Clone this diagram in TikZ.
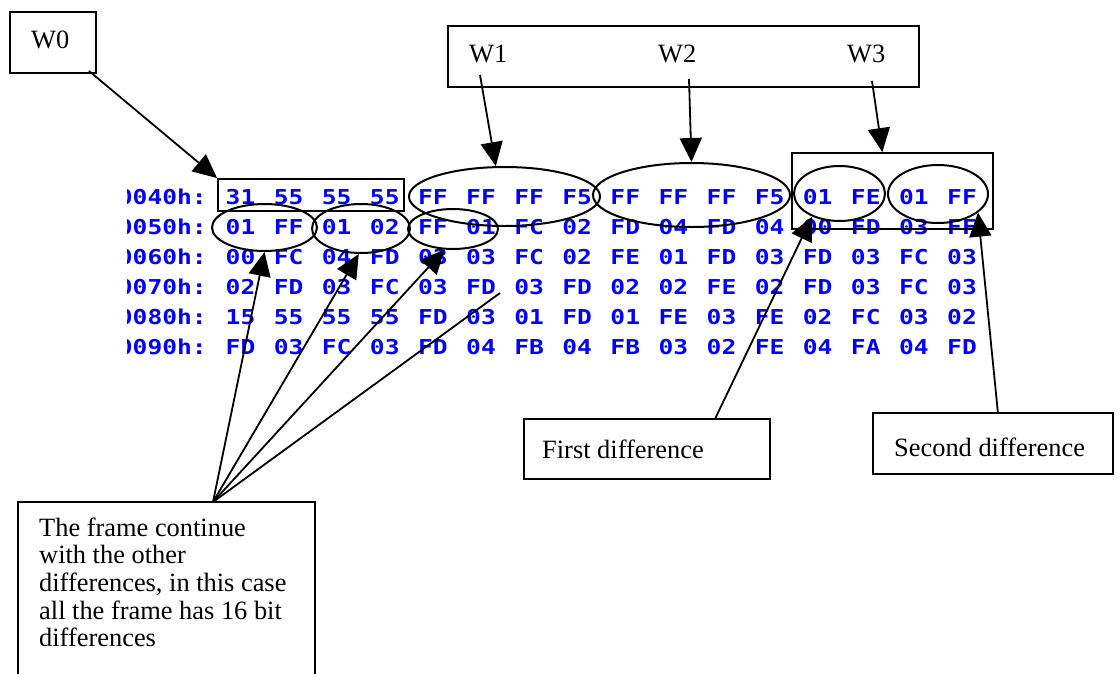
\documentclass[tikz,border=0pt]{standalone}
\usepackage{fontspec}
\setmainfont{Liberation Serif}
\newfontfamily\hexfont[FakeStretch=1.2]{DejaVu Sans Mono}
\usetikzlibrary{arrows.meta,calc,shapes.geometric}
\definecolor{hexblue}{RGB}{0,0,255}
\tikzset{
  hexcell/.style={font=\hexfont\bfseries\fontsize{20.5}{20.5}\selectfont, text=hexblue, inner sep=0pt, anchor=base},
  hexlbl/.style={hexcell, anchor=base east},
  lbl/.style={font=\fontsize{26.4}{27.7}\selectfont, inner sep=0pt, anchor=base west},
  frame/.style={draw, line width=2pt, inner sep=0pt, rectangle},
  ring/.style={draw, line width=2pt, inner sep=0pt, ellipse},
  arr/.style={line width=1.8pt, -{Triangle[length=24pt,width=22pt]}},
  plainline/.style={line width=1.8pt},
}
\begin{document}
\begin{tikzpicture}[x=1pt,y=-1pt]
\useasboundingbox (0,0) rectangle (1120,673);

% hex dump
\begin{scope}
\clip (127,150) rectangle (215,380);
\foreach \lab [count=\r from 0] in {0040h:,0050h:,0060h:,0070h:,0080h:,0090h:}
  \node[hexlbl] (lab\r) at (207,{204.5+30*\r}) {\lab};
\end{scope}
\foreach \row [count=\r from 0] in {
  {31,55,55,55,FF,FF,FF,F5,FF,FF,FF,F5,01,FE,01,FF},
  {01,FF,01,02,FF,01,FC,02,FD,04,FD,04,00,FD,03,FF},
  {00,FC,04,FD,03,03,FC,02,FE,01,FD,03,FD,03,FC,03},
  {02,FD,03,FC,03,FD,03,FD,02,02,FE,02,FD,03,FC,03},
  {15,55,55,55,FD,03,01,FD,01,FE,03,FE,02,FC,03,02},
  {FD,03,FC,03,FD,04,FB,04,FB,03,02,FE,04,FA,04,FD}}
  \foreach \b [count=\j from 0] in \row
    \node[hexcell] (h\r-\j) at ({240.5+48.1*\j},{204.5+30*\r}) {\b};

% boxes
\node[frame, minimum width=86pt, minimum height=61pt] (w0box) at (53,42.5) {};
\node[lbl] (w0t) at (31,48) {W0};
\node[frame, minimum width=471.5pt, minimum height=61pt] (wbox) at (683.25,56.5) {};
\node[lbl] (w1t) at (469,62) {W1};
\node[lbl] (w2t) at (658,62) {W2};
\node[lbl] (w3t) at (847,62) {W3};
\node[frame, line width=1.8pt, minimum width=186pt, minimum height=32pt] (r31) at (311,195) {};
\node[frame, line width=1.8pt, minimum width=201pt, minimum height=76pt] (w3r) at (892.5,191) {};

% ellipses
\node[ring, minimum width=191pt, minimum height=59pt] (we1) at (504.5,196.5) {};
\node[ring, minimum width=197pt, minimum height=64pt] (we2) at (691.5,195) {};
\node[ring, minimum width=91pt, minimum height=55pt] (fe) at (839.5,193.5) {};
\node[ring, minimum width=100pt, minimum height=58pt] (ff) at (938,194) {};
\node[ring, minimum width=105pt, minimum height=47pt] (e1) at (264.5,227.5) {};
\node[ring, minimum width=98pt, minimum height=49pt] (e2) at (361,228.5) {};
\node[ring, minimum width=90pt, minimum height=40pt] (e3) at (453,229) {};

% lower boxes
\node[frame, minimum width=246pt, minimum height=60pt] (fd) at (647,449) {};
\node[lbl] (fdt) at (542,458) {First difference};
\node[frame, minimum width=240pt, minimum height=61pt] (sd) at (993,443.5) {};
\node[lbl] (sdt) at (894,456) {Second difference};
\node[frame, minimum width=297pt, minimum height=198pt] (bt) at (166.5,601) {};
\node[lbl] (btt) at (39,536) {\parbox[t]{270pt}{\raggedright The frame continue\\with the other\\differences, in this case\\all the frame has 16 bit\\differences}};

% connectors
\coordinate (a0) at (89,71);
\coordinate (a1) at (480,75);
\coordinate (a2) at (689,79);
\coordinate (a3) at (872,81);
\coordinate (conv) at (213,502);
\coordinate (c4) at (500,293);
\draw[arr] (a0) -- (r31.north west);
\draw[arr] (a1) -- (we1.106);
\draw[arr] (a2) -- (we2.north);
\draw[arr] (a3) -- ($(w3r.north west)!0.45!(w3r.north east)$);
\draw[arr] (conv) -- (e1.south);
\draw[arr] (conv) -- (e2.265);
\draw[arr] (conv) -- (e3.248);
\draw[plainline] (conv) -- (c4);
\draw[arr] ($(fd.north west)!0.776!(fd.north east)$) -- (fe.220);
\draw[arr] ($(sd.north west)!0.52!(sd.north east)$) -- (ff.335);
\end{tikzpicture}
\end{document}
